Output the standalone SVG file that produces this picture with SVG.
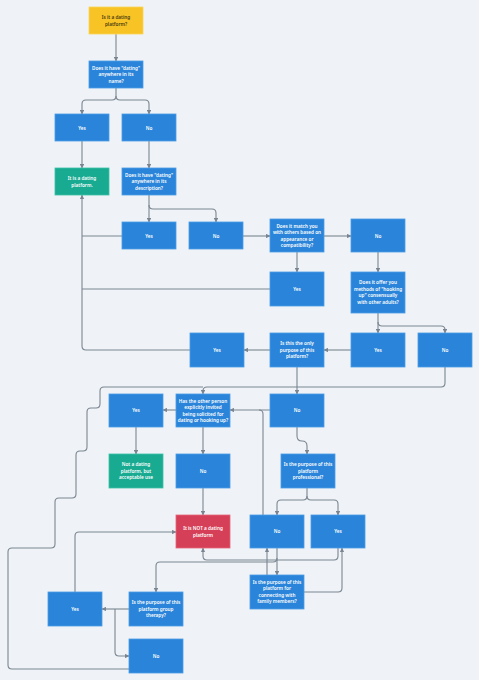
<svg xmlns="http://www.w3.org/2000/svg" width="479" height="680" viewBox="0 0 479 680">
<defs>
<marker id="ah" viewBox="0 0 6 6" refX="5.5" refY="3" markerWidth="4.5" markerHeight="4.5" markerUnits="userSpaceOnUse" orient="auto">
<path d="M0,0 L6,3 L0,6 z" fill="#7b8591"/>
</marker>
<style>
.b rect{fill:#2a84d9;stroke:#4b9be6;stroke-width:0.8}
.t rect{fill:#19aa92;stroke:#3cc0a9;stroke-width:0.8}
.y rect{fill:#f7c325;stroke:#fbd45a;stroke-width:0.8}
.r rect{fill:#d63f58;stroke:#e6667b;stroke-width:0.8}
text{font-family:"Noto Sans","DejaVu Sans",sans-serif;font-size:4.7px;font-weight:600;fill:#ffffff;text-anchor:middle}
.y text{fill:#4a3a10}
#connectors path{fill:none;stroke:#7b8591;stroke-width:1.1}
.a{marker-end:url(#ah)}
</style>
</defs>
<rect x="0" y="0" width="479" height="680" fill="#eff3f7"/>
<g id="connectors">
<path class="a" d="M116,34 V61"/>
<path class="a" d="M116,88 V96 Q116,100 112,100 H86 Q82,100 82,104 V114"/>
<path class="a" d="M116,96 Q116,100 120,100 H145 Q149,100 149,104 V114"/>
<path class="a" d="M82,141 V168"/>
<path class="a" d="M149,141 V168"/>
<path class="a" d="M149,195 V222"/>
<path class="a" d="M149,205 Q149,209 153,209 H212 Q216,209 216,213 V222"/>
<path class="a" d="M190,350 H86 Q82,350 82,346 V195"/>
<path d="M122,236 H82"/>
<path d="M270,289 H82"/>
<path class="a" d="M243,236 H270"/>
<path class="a" d="M324,236 H351"/>
<path class="a" d="M297,252 V272"/>
<path class="a" d="M378,252 V272"/>
<path class="a" d="M378,313 V333"/>
<path class="a" d="M378,322 Q378,326 382,326 H441 Q445,326 445,330 V333"/>
<path class="a" d="M351,350 H324"/>
<path class="a" d="M270,350 H244"/>
<path class="a" d="M445,367 V383 Q445,387 441,387 H207 Q203,387 203,391 V394"/>
<path d="M129,669 H12 Q8,669 8,665 V552 Q8,548 12,548 H51 Q55,548 55,544 V502 Q55,498 59,498 H72 Q76,498 76,494 V455 Q76,451 80,451 H83 Q87,451 87,447 V412 Q87,408 91,408 H96 Q100,408 100,404 V391 Q100,387 104,387 H203"/>
<path class="a" d="M297,367 V394"/>
<path class="a" d="M270,410 H230"/>
<path d="M263,515 V414 Q263,410 259,410"/>
<path class="a" d="M176,410 H163"/>
<path class="a" d="M203,427 V454"/>
<path class="a" d="M136,427 V454"/>
<path class="a" d="M203,488 V515"/>
<path class="a" d="M297,427 V436 Q297,441 302,441 Q307,441 307,446 V454"/>
<path class="a" d="M307,488 V496 Q307,500 303,500 H281 Q277,500 277,504 V515"/>
<path class="a" d="M307,496 Q307,500 311,500 H334 Q338,500 338,504 V515"/>
<path class="a" d="M277,548 V575"/>
<path class="a" d="M267,575 V548"/>
<path class="a" d="M338,548 V556 Q338,560 334,560 H207 Q203,560 203,556 V548"/>
<path class="a" d="M277,558 Q277,562 273,562 H160 Q156,562 156,566 V592"/>
<path class="a" d="M304,592 H338 Q342,592 342,588 V548"/>
<path class="a" d="M129,609 H102"/>
<path class="a" d="M115,609 V652 Q115,656 119,656 H129"/>
<path class="a" d="M75,592 V536 Q75,532 79,532 H176"/>
</g>
<g id="start" class="y"><rect x="89" y="7" width="54" height="27"/><text x="116" y="19">Is it a dating</text><text x="116" y="25.5">platform?</text></g>
<g id="q1" class="b"><rect x="89" y="61" width="54" height="27"/><text x="116" y="69.5">Does it have "dating"</text><text x="116" y="76">anywhere in its</text><text x="116" y="82.5">name?</text></g>
<g id="yes1" class="b"><rect x="55" y="114" width="54" height="27"/><text x="82" y="129.5">Yes</text></g>
<g id="no1" class="b"><rect x="122" y="114" width="54" height="27"/><text x="149" y="129.5">No</text></g>
<g id="dating" class="t"><rect x="55" y="168" width="54" height="27"/><text x="82" y="180">It is a dating</text><text x="82" y="186.5">platform.</text></g>
<g id="q2" class="b"><rect x="122" y="168" width="54" height="27"/><text x="149" y="176.5">Does it have "dating"</text><text x="149" y="183">anywhere in its</text><text x="149" y="189.5">description?</text></g>
<g id="yes2" class="b"><rect x="122" y="222" width="54" height="27"/><text x="149" y="237.5">Yes</text></g>
<g id="no2" class="b"><rect x="189" y="222" width="54" height="27"/><text x="216" y="237.5">No</text></g>
<g id="q3" class="b"><rect x="270" y="219" width="54" height="33"/><text x="297" y="227.5">Does it match you</text><text x="297" y="234">with others based on</text><text x="297" y="240.5">appearance or</text><text x="297" y="247">compatibility?</text></g>
<g id="no3" class="b"><rect x="351" y="219" width="54" height="33"/><text x="378" y="237.5">No</text></g>
<g id="yes3" class="b"><rect x="270" y="272" width="54" height="34"/><text x="297" y="290.5">Yes</text></g>
<g id="q4" class="b"><rect x="351" y="272" width="54" height="41"/><text x="378" y="284">Does it offer you</text><text x="378" y="290.5">methods of "hooking</text><text x="378" y="297">up" consensually</text><text x="378" y="303.5">with other adults?</text></g>
<g id="only" class="b"><rect x="270" y="333" width="54" height="34"/><text x="297" y="345">Is this the only</text><text x="297" y="351.5">purpose of this</text><text x="297" y="358">platform?</text></g>
<g id="yes4" class="b"><rect x="351" y="333" width="54" height="34"/><text x="378" y="351.5">Yes</text></g>
<g id="no4" class="b"><rect x="418" y="333" width="54" height="34"/><text x="445" y="351.5">No</text></g>
<g id="yes5" class="b"><rect x="190" y="333" width="54" height="34"/><text x="217" y="351.5">Yes</text></g>
<g id="yes6" class="b"><rect x="109" y="394" width="54" height="33"/><text x="136" y="412">Yes</text></g>
<g id="q6" class="b"><rect x="176" y="394" width="54" height="33"/><text x="203" y="402.5">Has the other person</text><text x="203" y="409">explicitly invited</text><text x="203" y="415.5">being solicited for</text><text x="203" y="422">dating or hooking up?</text></g>
<g id="no6" class="b"><rect x="270" y="394" width="54" height="33"/><text x="297" y="412">No</text></g>
<g id="acceptable" class="t"><rect x="109" y="454" width="54" height="34"/><text x="136" y="466">Not a dating</text><text x="136" y="472.5">platform, but</text><text x="136" y="479">acceptable use</text></g>
<g id="no7" class="b"><rect x="176" y="454" width="54" height="34"/><text x="203" y="472.5">No</text></g>
<g id="q7" class="b"><rect x="281" y="454" width="54" height="34"/><text x="308" y="466">Is the purpose of this</text><text x="308" y="472.5">platform</text><text x="308" y="479">professional?</text></g>
<g id="notdating" class="r"><rect x="176" y="515" width="54" height="33"/><text x="203" y="530">It is NOT a dating</text><text x="203" y="536.5">platform</text></g>
<g id="no8" class="b"><rect x="250" y="515" width="54" height="33"/><text x="277" y="533">No</text></g>
<g id="yes8" class="b"><rect x="311" y="515" width="54" height="33"/><text x="338" y="533">Yes</text></g>
<g id="q8" class="b"><rect x="250" y="575" width="54" height="34"/><text x="277" y="583.5">Is the purpose of this</text><text x="277" y="590">platform for</text><text x="277" y="596.5">connecting with</text><text x="277" y="603">family members?</text></g>
<g id="yes9" class="b"><rect x="48" y="592" width="54" height="34"/><text x="75" y="610.5">Yes</text></g>
<g id="q9" class="b"><rect x="129" y="592" width="54" height="34"/><text x="156" y="604">Is the purpose of this</text><text x="156" y="610.5">platform group</text><text x="156" y="617">therapy?</text></g>
<g id="no9" class="b"><rect x="129" y="639" width="54" height="34"/><text x="156" y="657.5">No</text></g>
</svg>
